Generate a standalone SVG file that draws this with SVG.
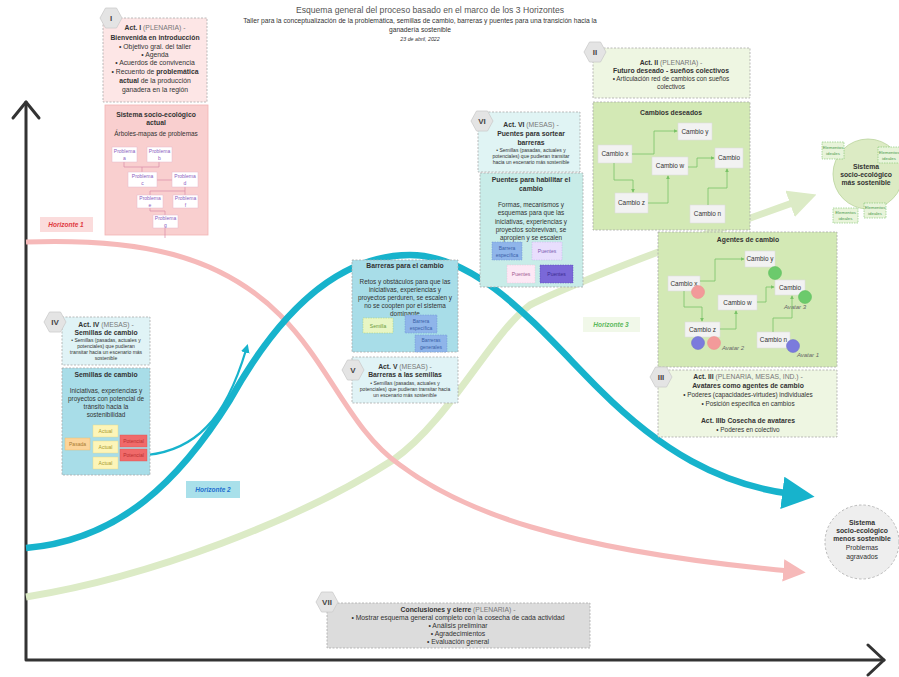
<svg xmlns="http://www.w3.org/2000/svg" width="899" height="677" viewBox="0 0 899 677">
<style>
text{font-family:"Liberation Sans",Arial,sans-serif;fill:#333;text-anchor:middle}
.t{font-size:6.8px}
.s{font-size:5px}
.m{font-size:6.4px}
.b{font-weight:bold}
.g{fill:#777}
.box{stroke:#aaa;stroke-width:0.8;stroke-dasharray:2 1.5}
.hex{fill:#e4e4e4;stroke:#ccc;stroke-width:0.8}
.hx{font-size:8px;font-weight:bold;fill:#444}
.node{fill:#f2f2f2;stroke:#dcdcdc;stroke-width:0.6}
.pb{fill:#fff;stroke:#e6b9c9;stroke-width:0.5}
.pt{font-size:5px;fill:#8a5cc0}
.ga{fill:none;stroke:#79c267;stroke-width:0.8;marker-end:url(#sg)}
.pl{fill:none;stroke:#d98aa8;stroke-width:0.7}
.av{font-size:6px;font-style:italic;fill:#666}
.el{fill:#e8f4da;stroke:#7cc36c;stroke-width:0.6;stroke-dasharray:1.5 1}
.elt{font-size:4.4px;fill:#4c9a4c}
</style>
<defs>
<polygon id="hex" points="-11,0 -5.5,-10 5.5,-10 11,0 5.5,10 -5.5,10"/>
<marker id="sg" viewBox="0 0 6 6" refX="5" refY="3" markerWidth="5" markerHeight="5" orient="auto"><path d="M0,0 L6,3 L0,6 z" fill="#79c267"/></marker>
<marker id="ac" viewBox="0 0 10 10" refX="3" refY="5" markerWidth="4" markerHeight="4" orient="auto"><path d="M0,0 L10,5 L0,10 z" fill="#17b3cc"/></marker>
<marker id="ap" viewBox="0 0 10 10" refX="3" refY="5" markerWidth="4.5" markerHeight="4.5" orient="auto"><path d="M0,0 L10,5 L0,10 z" fill="#f6b9b9"/></marker>
<marker id="agr" viewBox="0 0 10 10" refX="3" refY="5" markerWidth="4" markerHeight="4" orient="auto"><path d="M0,0 L10,5 L0,10 z" fill="#dcebc6"/></marker>
<marker id="act" viewBox="0 0 10 10" refX="3" refY="5" markerWidth="5" markerHeight="5" orient="auto"><path d="M0,0 L10,5 L0,10 z" fill="#17b3cc"/></marker>
</defs>
<rect width="899" height="677" fill="#fff"/>

<g id="title">
<text x="430" y="13" style="font-size:8.6px;fill:#555">Esquema general del proceso basado en el marco de los 3 Horizontes</text>
<text x="420" y="23" style="font-size:6.7px">Taller para la conceptualización de la problemática, semillas de cambio, barreras y puentes para una transición hacia la</text>
<text x="420" y="32" style="font-size:6.7px">ganadería sostenible</text>
<text x="420" y="41" style="font-size:5.3px;font-style:italic">23 de abril, 2022</text>
</g>

<g id="axes" fill="none" stroke="#333" stroke-width="3" stroke-linecap="round" stroke-linejoin="round">
<path d="M26,102 V660 H884"/>
<path d="M13,118 L26,102 L39,118"/>
<path d="M868,645 L884,660 L868,675"/>
</g>

<g id="curves">
<path d="M26,597 C150,577 300,520 393,460 C450,420 490,335 530,305 C570,285 660,250 798,201" fill="none" stroke="#dcebc6" stroke-width="7" marker-end="url(#agr)"/>
<path d="M26,242 C140,238 220,255 280,315 C330,365 350,430 400,465 C460,510 560,550 790,571" fill="none" stroke="#f6b9b9" stroke-width="5" marker-end="url(#ap)"/>
<path d="M26,548 C120,540 180,480 230,400 C280,310 340,255 410,255 C480,255 540,330 600,390 C660,450 720,485 792,494" fill="none" stroke="#17b3cc" stroke-width="6.5" marker-end="url(#act)"/>
<path d="M147,455 C195,450 225,420 246,350" fill="none" stroke="#17b3cc" stroke-width="2.2" marker-end="url(#ac)"/>
</g>

<g id="horizonte1"><rect x="40" y="217" width="53" height="15" fill="#fbdcdc"/><text x="66" y="227" style="font-size:6.5px;font-style:italic;font-weight:bold;fill:#e0393e">Horizonte 1</text></g>
<g id="horizonte2"><rect x="186" y="481" width="54" height="17" fill="#a9e0ea"/><text x="213" y="492" style="font-size:6.5px;font-style:italic;font-weight:bold;fill:#1f6fcf">Horizonte 2</text></g>
<g id="horizonte3"><rect x="583" y="317" width="57" height="15" fill="#f1f8e9"/><text x="611" y="327" style="font-size:6.5px;font-style:italic;font-weight:bold;fill:#5cb85c">Horizonte 3</text></g>

<g id="act1">
<rect class="box" x="103" y="18" width="104" height="84" fill="#fde6e6"/>
<use href="#hex" x="111" y="18" class="hex"/><text x="111" y="21" class="hx">I</text>
<text x="155" y="30" class="t"><tspan class="b">Act. I</tspan><tspan class="g"> (PLENARIA) -</tspan></text>
<text x="155" y="40" class="t b">Bienvenida en introducción</text>
<text x="155" y="49" class="t">• Objetivo gral. del taller</text>
<text x="155" y="57" class="t">• Agenda</text>
<text x="155" y="65" class="t">• Acuerdos de convivencia</text>
<text x="155" y="74" class="t">• Recuento de <tspan class="b">problemática</tspan></text>
<text x="155" y="83" class="t"><tspan class="b">actual</tspan> de la producción</text>
<text x="155" y="92" class="t">ganadera en la región</text>
</g>

<g id="sistema-actual">
<rect x="105" y="105" width="103" height="130" fill="#f9cfcf" stroke="#f2b3b3" stroke-width="0.8"/>
<text x="156" y="117" class="t b">Sistema socio-ecológico</text>
<text x="156" y="125" class="t b">actual</text>
<text x="156" y="136" class="m">Árboles-mapas de problemas</text>
<path class="pl" d="M124,162 V167 H159 M159,162 V167 M142,167 V172 M157,180 H172 M185,187 V191 H150 V195 M185,191 V195 M150,208 V211 H165 V215 M165,228 V238"/>
<rect class="pb" x="112" y="147" width="25" height="15"/><text x="124.5" y="153" class="pt">Problema</text><text x="124.5" y="160" class="pt">a</text>
<rect class="pb" x="147" y="147" width="25" height="15"/><text x="159.5" y="153" class="pt">Problema</text><text x="159.5" y="160" class="pt">b</text>
<rect class="pb" x="128" y="172" width="29" height="15"/><text x="142.5" y="178" class="pt">Problema</text><text x="142.5" y="185" class="pt">c</text>
<rect class="pb" x="172" y="172" width="26" height="15"/><text x="185" y="178" class="pt">Problema</text><text x="185" y="185" class="pt">d</text>
<rect class="pb" x="137" y="195" width="26" height="13"/><text x="150" y="200" class="pt">Problema</text><text x="150" y="206.5" class="pt">e</text>
<rect class="pb" x="173" y="195" width="25" height="13"/><text x="185.5" y="200" class="pt">Problema</text><text x="185.5" y="206.5" class="pt">f</text>
<rect class="pb" x="153" y="215" width="25" height="13"/><text x="165.5" y="220" class="pt">Problema</text><text x="165.5" y="226.5" class="pt">g</text>
</g>

<g id="act4">
<rect class="box" x="62" y="317" width="88" height="48" fill="#e0f3f6"/>
<use href="#hex" x="55" y="322" class="hex"/><text x="55" y="325" class="hx">IV</text>
<text x="106" y="327" class="t"><tspan class="b">Act. IV</tspan><tspan class="g"> (MESAS) -</tspan></text>
<text x="106" y="335" class="t b">Semillas de cambio</text>
<text x="106" y="342" class="s">• Semillas (pasadas, actuales y</text>
<text x="106" y="348" class="s">potenciales) que pudieran</text>
<text x="106" y="354" class="s">transitar hacia un escenario más</text>
<text x="106" y="360" class="s">sostenible</text>
</g>

<g id="semillas">
<rect class="box" x="62" y="368" width="88" height="107" fill="#a8dde8"/>
<text x="106" y="377" class="t b">Semillas de cambio</text>
<text x="106" y="393" class="m">Iniciativas, experiencias y</text>
<text x="106" y="401" class="m">proyectos con potencial de</text>
<text x="106" y="409" class="m">tránsito hacia la</text>
<text x="106" y="417" class="m">sostenibilidad</text>
<rect x="65" y="438" width="25" height="12" fill="#fcd49a" stroke="#f0b860" stroke-width="0.4"/><text x="77.5" y="446" style="font-size:5px;fill:#a87a30">Pasada</text>
<rect x="93" y="425" width="25" height="12" fill="#fdf5b8" stroke="#e8d880" stroke-width="0.4"/><text x="105.5" y="433" style="font-size:5px;fill:#a89a30">Actual</text>
<rect x="93" y="441" width="25" height="12" fill="#fdf5b8" stroke="#e8d880" stroke-width="0.4"/><text x="105.5" y="449" style="font-size:5px;fill:#a89a30">Actual</text>
<rect x="93" y="457" width="25" height="12" fill="#fdf5b8" stroke="#e8d880" stroke-width="0.4"/><text x="105.5" y="465" style="font-size:5px;fill:#a89a30">Actual</text>
<rect x="120" y="435" width="27" height="12" fill="#f06a6a" stroke="#e05050" stroke-width="0.4"/><text x="133.5" y="443" style="font-size:5px;fill:#b83030">Potencial</text>
<rect x="120" y="449" width="27" height="12" fill="#f06a6a" stroke="#e05050" stroke-width="0.4"/><text x="133.5" y="457" style="font-size:5px;fill:#b83030">Potencial</text>
</g>

<g id="barreras">
<rect class="box" x="352" y="260" width="106" height="92" fill="#a8dde8"/>
<text x="405" y="268" class="t b">Barreras para el cambio</text>
<text x="405" y="284" class="m">Retos y obstáculos para que las</text>
<text x="405" y="292" class="m">iniciativas, experiencias y</text>
<text x="405" y="300" class="m">proyectos perduren, se escalen y</text>
<text x="405" y="308" class="m">no se coopten por el sistema</text>
<text x="405" y="316" class="m">dominante</text>
<rect x="363" y="318" width="30" height="15" fill="#e8f6c4" stroke="#a8cc70" stroke-width="0.5" stroke-dasharray="1.5 1"/><text x="378" y="328" style="font-size:5px;fill:#6a9a3a">Semilla</text>
<rect x="405" y="315" width="32" height="18" fill="#8fb5ea" stroke="#6f95d0" stroke-width="0.5" stroke-dasharray="1.5 1"/><text x="421" y="323" style="font-size:5px;fill:#3a5fa8">Barrera</text><text x="421" y="330" style="font-size:5px;fill:#3a5fa8">específica</text>
<rect x="415" y="335" width="32" height="17" fill="#8fb5ea" stroke="#6f95d0" stroke-width="0.5" stroke-dasharray="1.5 1"/><text x="431" y="342" style="font-size:5px;fill:#3a5fa8">Barreras</text><text x="431" y="349" style="font-size:5px;fill:#3a5fa8">generales</text>
</g>

<g id="act5">
<rect class="box" x="352" y="357" width="106" height="46" fill="#e0f3f6"/>
<use href="#hex" x="353" y="370" class="hex"/><text x="353" y="373" class="hx">V</text>
<text x="405" y="369" class="t"><tspan class="b">Act. V</tspan><tspan class="g"> (MESAS) -</tspan></text>
<text x="405" y="377" class="t b">Barreras a las semillas</text>
<text x="405" y="385" class="s">• Semillas (pasadas, actuales y</text>
<text x="405" y="391" class="s">potenciales) que pudieran transitar hacia</text>
<text x="405" y="397" class="s">un escenario más sostenible</text>
</g>

<g id="act6">
<rect class="box" x="478" y="112" width="102" height="60" fill="#e0f4f4"/>
<use href="#hex" x="482" y="121" class="hex"/><text x="482" y="124" class="hx">VI</text>
<text x="531" y="127" class="t"><tspan class="b">Act. VI</tspan><tspan class="g"> (MESAS) -</tspan></text>
<text x="531" y="136" class="t b">Puentes para sortear</text>
<text x="531" y="145" class="t b">barreras</text>
<text x="531" y="152" class="s">• Semillas (pasadas, actuales y</text>
<text x="531" y="158" class="s">potenciales) que pudieran transitar</text>
<text x="531" y="164" class="s">hacia un escenario más sostenible</text>
</g>

<g id="puentes">
<rect class="box" x="480" y="173" width="103" height="114" fill="#c8ece8"/>
<text x="531" y="182" class="t b">Puentes para habilitar el</text>
<text x="531" y="191" class="t b">cambio</text>
<text x="531" y="207" class="m">Formas, mecanismos y</text>
<text x="531" y="215" class="m">esquemas para que las</text>
<text x="531" y="224" class="m">iniciativas, experiencias y</text>
<text x="531" y="232" class="m">proyectos sobrevivan, se</text>
<text x="531" y="240" class="m">apropien y se escalen</text>
<rect x="492" y="242" width="30" height="18" fill="#8fb5ea" stroke="#6f95d0" stroke-width="0.5" stroke-dasharray="1.5 1"/><text x="507" y="250" style="font-size:5px;fill:#3a5fa8">Barrera</text><text x="507" y="257" style="font-size:5px;fill:#3a5fa8">específica</text>
<rect x="532" y="242" width="30" height="18" fill="#e8defd" stroke="#c0b0ea" stroke-width="0.5" stroke-dasharray="1.5 1"/><text x="547" y="253" style="font-size:5px;fill:#7a5ab0">Puentes</text>
<rect x="507" y="265" width="28" height="18" fill="#fde8f5" stroke="#e8c0d8" stroke-width="0.5" stroke-dasharray="1.5 1"/><text x="521" y="276" style="font-size:5px;fill:#a05a90">Puentes</text>
<rect x="540" y="265" width="33" height="18" fill="#7a68d8" stroke="#5a48b8" stroke-width="0.5" stroke-dasharray="1.5 1"/><text x="556.5" y="276" style="font-size:5px;fill:#3a2a90">Puentes</text>
</g>

<g id="act2">
<rect class="box" x="593" y="48" width="157" height="50" fill="#eef6e2"/>
<use href="#hex" x="595" y="52" class="hex"/><text x="595" y="55" class="hx">II</text>
<text x="671" y="65" class="t"><tspan class="b">Act. II</tspan><tspan class="g"> (PLENARIA) -</tspan></text>
<text x="671" y="73" class="t b">Futuro deseado - sueños colectivos</text>
<text x="671" y="81" class="m">• Articulación red de cambios con sueños</text>
<text x="671" y="89" class="m">colectivos</text>
</g>

<g id="cambios-deseados">
<rect class="box" x="593" y="102" width="157" height="128" fill="#d3e9b5"/>
<text x="671" y="115" class="t b">Cambios deseados</text>
<rect class="node" x="598" y="145" width="34" height="18"/><text x="615" y="156" class="m">Cambio x</text>
<rect class="node" x="678" y="123" width="34" height="17"/><text x="695" y="134" class="m">Cambio y</text>
<rect class="node" x="652" y="157" width="36" height="18"/><text x="670" y="168" class="m">Cambio w</text>
<rect class="node" x="715" y="148" width="28" height="20"/><text x="729" y="160" class="m">Cambio</text>
<rect class="node" x="615" y="193" width="33" height="20"/><text x="631.5" y="205" class="m">Cambio z</text>
<rect class="node" x="690" y="205" width="35" height="18"/><text x="707.5" y="216" class="m">Cambio n</text>
</g>

<g id="agentes">
<rect class="box" x="658" y="232" width="179" height="135" fill="#d3e9b5"/>
<text x="748" y="242" class="t b">Agentes de cambio</text>
<rect class="node" x="668" y="276" width="32" height="15"/><text x="684" y="286" class="m">Cambio x</text>
<rect class="node" x="745" y="251" width="30" height="16"/><text x="760" y="261" class="m">Cambio y</text>
<rect class="node" x="775" y="280" width="30" height="15"/><text x="790" y="290" class="m">Cambio</text>
<rect class="node" x="718" y="295" width="39" height="15"/><text x="737.5" y="305" class="m">Cambio w</text>
<rect class="node" x="685" y="322" width="35" height="15"/><text x="702.5" y="332" class="m">Cambio z</text>
<rect class="node" x="757" y="332" width="33" height="16"/><text x="773.5" y="342" class="m">Cambio n</text>
<circle cx="698" cy="292" r="6.5" fill="#f29a9a" stroke="#e88" stroke-width="0.5"/>
<circle cx="775" cy="273" r="6.5" fill="#6cca6c" stroke="#5b5" stroke-width="0.5"/>
<circle cx="805" cy="297" r="6.5" fill="#6cca6c" stroke="#5b5" stroke-width="0.5"/>
<circle cx="698" cy="343" r="6.5" fill="#7b7bdc" stroke="#66c" stroke-width="0.5"/>
<circle cx="714" cy="343" r="6.5" fill="#f29a9a" stroke="#e88" stroke-width="0.5"/>
<circle cx="793" cy="346" r="6.5" fill="#7b7bdc" stroke="#66c" stroke-width="0.5"/>
<text x="795" y="309" class="av">Avatar 3</text>
<text x="733" y="350" class="av">Avatar 2</text>
<text x="808" y="357" class="av">Avatar 1</text>
</g>

<g id="act3">
<rect class="box" x="658" y="370" width="179" height="67" fill="#eef6e2"/>
<use href="#hex" x="661" y="377" class="hex"/><text x="661" y="380" class="hx">III</text>
<text x="748" y="379" class="t"><tspan class="b">Act. III</tspan><tspan class="g"> (PLENARIA, MESAS, IND.) -</tspan></text>
<text x="748" y="388" class="t b">Avatares como agentes de cambio</text>
<text x="748" y="397" class="m">• Poderes (capacidades-virtudes) individuales</text>
<text x="748" y="406" class="m">• Posición específica en cambios</text>
<text x="748" y="423" class="t b">Act. IIIb Cosecha de avatares</text>
<text x="748" y="432" class="m">• Poderes en colectivo</text>
</g>

<g id="sistema-sostenible">
<circle cx="868" cy="174" r="35" fill="#dcebc4" stroke="#b9d39a" stroke-width="0.8"/>
<text x="866" y="169" class="t b">Sistema</text>
<text x="866" y="177" class="t b">socio-ecológico</text>
<text x="866" y="185" class="t b">más sostenible</text>
<rect class="el" x="822" y="142" width="22" height="17"/><text x="833" y="149" class="elt">Elementos</text><text x="833" y="155" class="elt">ideales</text>
<rect class="el" x="878" y="147" width="22" height="16"/><text x="889" y="154" class="elt">Elementos</text><text x="889" y="160" class="elt">ideales</text>
<rect class="el" x="833" y="208" width="25" height="15"/><text x="845.5" y="214" class="elt">Elementos</text><text x="845.5" y="220" class="elt">ideales</text>
<rect class="el" x="864" y="203" width="22" height="15"/><text x="875" y="209" class="elt">Elementos</text><text x="875" y="215" class="elt">ideales</text>
</g>

<g id="sistema-menos">
<circle cx="862" cy="542" r="37" fill="#eeeeee" stroke="#aaa" stroke-width="0.8" stroke-dasharray="2.5 2"/>
<text x="862" y="525" class="t b">Sistema</text>
<text x="862" y="533" class="t b">socio-ecológico</text>
<text x="862" y="541" class="t b">menos sostenible</text>
<text x="862" y="550" class="t">Problemas</text>
<text x="862" y="559" class="t">agravados</text>
</g>

<g id="act7">
<rect class="box" x="327" y="603" width="263" height="45" fill="#dcdcdc"/>
<use href="#hex" x="327" y="602" class="hex"/><text x="327" y="605" class="hx">VII</text>
<text x="458" y="612" class="t"><tspan class="b">Conclusiones y cierre</tspan><tspan class="g"> (PLENARIA) -</tspan></text>
<text x="458" y="620" class="t">• Mostrar esquema general completo con la cosecha de cada actividad</text>
<text x="458" y="628" class="t">• Análisis preliminar</text>
<text x="458" y="636" class="t">• Agradecimientos</text>
<text x="458" y="644" class="t">• Evaluación general</text>
</g>

<g id="connectors">
<path class="ga" d="M632,154 H654 V131 H677"/>
<path class="ga" d="M614,163 V180 H633 V192"/>
<path class="ga" d="M648,203 H668 V176"/>
<path class="ga" d="M688,167 H697 V158 H714"/>
<path class="ga" d="M708,205 V188 H727 V169"/>
<path class="ga" d="M700,281 H715 V259 H744"/>
<path class="ga" d="M684,291 V307 H702 V321"/>
<path class="ga" d="M720,329 H736 V311"/>
<path class="ga" d="M757,302 H766 V287 H774"/>
<path class="ga" d="M773,332 V318 H792 V296"/>
</g>
</svg>
